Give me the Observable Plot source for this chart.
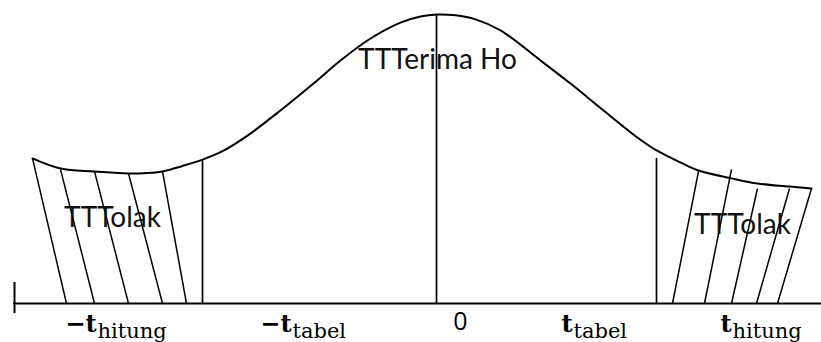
<!DOCTYPE html>
<html><head><meta charset="utf-8">
<script src="https://cdn.jsdelivr.net/npm/d3@7"></script>
<script src="https://cdn.jsdelivr.net/npm/@observablehq/plot@0.6"></script>
<style>body{margin:0;background:#fff}</style>
</head><body><div id="chart"></div>
<script>
// Density-like curve (x in t units, y relative height, peak = 1)
const curveX = [-4.04,-3.76,-3.42,-3.08,-2.74,-2.54,-2.34,-2.13,-1.89,-1.56,-1.23,-0.96,-0.66,-0.36,-0.16,0,0.19,0.39,0.64,1.04,1.34,1.67,2.01,2.17,2.44,2.62,2.95,3.21,3.53,3.75];
const curveY = [0.502,0.467,0.457,0.450,0.457,0.476,0.498,0.529,0.581,0.668,0.761,0.841,0.917,0.972,0.993,1.0,0.997,0.983,0.945,0.841,0.761,0.668,0.574,0.536,0.488,0.460,0.433,0.415,0.405,0.398];

// Vertical dividers (-t tabel, 0, t tabel)
const dividerX = [-2.34, 0, 2.20];
const dividerTop = [0.498, 1.0, 0.502];

// Hatch lines: top point -> bottom point (bottom on the axis, y = 0)
const hatchTopX = [-4.04,-3.76,-3.42,-3.08,-2.74, 2.62,2.95,3.21,3.53,3.75];
const hatchTopY = [0.502,0.464,0.457,0.450,0.457, 0.457,0.464,0.398,0.398,0.398];
const hatchBottomX = [-3.70,-3.42,-3.08,-2.74,-2.50, 2.36,2.68,2.95,3.20,3.41];

// Axis extent and left end tick
const axisStart = -4.23, axisEnd = 3.85;
const tickPos = [-4.22], tickTop = [0.073], tickBottom = [-0.035];

// Region labels
const regionLabels = ["TTTolak", "TTTerima Ho", "TTTolak"];
const regionX = [-3.24, 0.01, 3.06];
const regionY = [0.263, 0.810, 0.242];

// Axis labels
const labelMain = ["−t", "−t", "t", "t"];
const labelSub = ["hitung", "tabel", "tabel", "hitung"];
const labelX = [-3.40, -1.45, 1.36, 2.95];
const zeroLabel = ["0"], zeroX = [0.24];

const chart = Plot.plot({
  width: 821, height: 342,
  margin: 0,
  x: {domain: [-4.36, 3.85], axis: null},
  y: {domain: [0, 1], range: [303, 14], axis: null},
  style: {background: "#fff", color: "#000"},
  marks: [
    Plot.line(curveX, {x: curveX, y: curveY, curve: "catmull-rom", stroke: "#000", strokeWidth: 2}),
    Plot.ruleX(dividerX, {x: dividerX, y1: 0, y2: dividerTop, stroke: "#000", strokeWidth: 1.7}),
    Plot.link(hatchTopX, {x1: hatchTopX, y1: hatchTopY, x2: hatchBottomX, y2: 0, stroke: "#000", strokeWidth: 1.5}),
    Plot.ruleY([0], {y: 0, x1: axisStart, x2: axisEnd, stroke: "#000", strokeWidth: 2}),
    Plot.ruleX(tickPos, {x: tickPos, y1: tickBottom, y2: tickTop, stroke: "#000", strokeWidth: 2}),
    Plot.text(regionLabels, {x: regionX, y: regionY, text: regionLabels, lineAnchor: "bottom", textAnchor: "middle", fontFamily: "Lato", fontSize: 28, fill: "#111"}),
    Plot.text(labelMain, {x: labelX, y: 0, text: labelMain, lineAnchor: "bottom", textAnchor: "end", dy: 28, fontFamily: "DejaVu Serif", fontWeight: "bold", fontSize: 24, fill: "#000"}),
    Plot.text(labelSub, {x: labelX, y: 0, text: labelSub, lineAnchor: "bottom", textAnchor: "start", dx: 1, dy: 34, fontFamily: "DejaVu Serif", fontSize: 21, fill: "#000"}),
    Plot.text(zeroLabel, {x: zeroX, y: 0, text: zeroLabel, lineAnchor: "bottom", textAnchor: "middle", dy: 26, fontFamily: "Open Sans", fontSize: 25, fill: "#000"})
  ]
});
document.getElementById("chart").appendChild(chart);
</script>
</body></html>
